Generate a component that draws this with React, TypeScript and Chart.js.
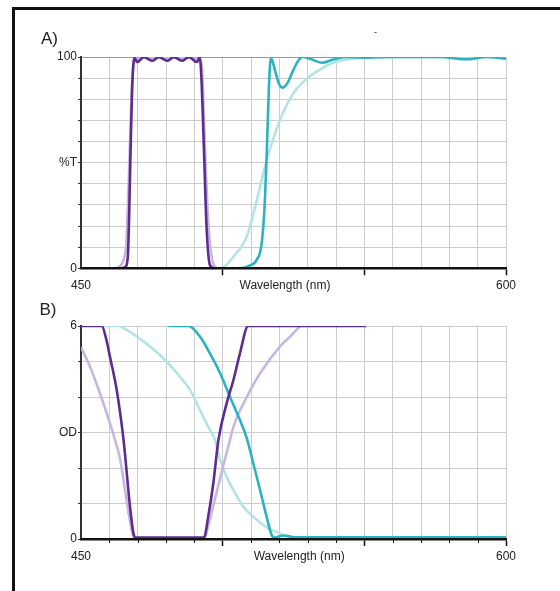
import React, { useEffect, useRef } from 'react';
import { Chart, registerables } from 'chart.js';

Chart.register(...registerables);

// ---------- axes / tick labels ----------
const X_MIN = 450;
const X_MAX = 600;
const X_GRID = [450, 460, 470, 480, 490, 500, 510, 520, 530, 540, 550, 560, 570, 580, 590, 600];
const X_LONG_TICKS = [500, 550, 600];
const X_END_LABELS = [450, 600];
const X_AXIS_NAME = 'Wavelength (nm)';
const A_X_NAME_AT = 522;
const B_X_NAME_AT = 527;

const A_Y_LABEL_VALUES = [0, 50, 100];
const A_Y_LABEL_TEXT = ['0', '%T', '100'];
const B_Y_LABEL_VALUES = [0, 3, 6];
const B_Y_LABEL_TEXT = ['0', 'OD', '6'];

// ---------- colours ----------
const DARK_PURPLE = '#5d2c8e';
const LIGHT_PURPLE = '#c7b7de';
const DARK_TEAL = '#2db3bf';
const LIGHT_TEAL = '#b4e3e3';

// ---------- Panel A: transmission (%T) ----------
const A_PURPLE_NM = [450, 464, 465.5, 466.5, 467, 467.5, 468.2, 468.9, 469.8, 472.2, 475.1, 477.5, 480.4, 482.8, 485.6, 488.1, 490.9, 491.9, 492.5, 493.4, 494.3, 495.5, 497, 600];
const A_PURPLE_T = [0, 0, 0.5, 5, 25, 56, 90, 99.5, 97.6, 100, 98.2, 100, 98.2, 100, 98.2, 100, 97.6, 99.8, 90, 56, 20, 1.5, 0, 0];

const A_LPURPLE_NM = [450, 461.5, 463.5, 465, 466, 466.6, 467.2, 468, 469, 472, 480, 488, 491.5, 492.6, 493.8, 494.6, 495.5, 496.7, 498.5, 600];
const A_LPURPLE_T = [0, 0, 0.8, 4, 12, 32, 56, 88, 98.5, 99.5, 99.5, 99.5, 99, 96, 56, 30, 12, 2, 0, 0];

const A_TEAL_NM = [498, 505, 508, 509, 512, 513.8, 514.9, 515.6, 516.3, 517, 517.6, 518.6, 520, 521.2, 523, 525, 526.8, 528.2, 531, 535, 539, 543.2, 549.6, 559, 569.6, 576.7, 586.1, 593.2, 600];
const A_TEAL_T = [0, 0, 0.4, 1, 4, 12, 32, 56, 85, 99.5, 98, 93, 87, 85.5, 88, 94, 98.5, 100, 99, 97.3, 98.8, 100, 99.7, 100, 100, 100, 98.9, 100, 99.2];

const A_LTEAL_NM = [498, 500.5, 503.8, 508.5, 512, 515.5, 520.2, 524.9, 529.7, 535, 539.6, 549.6, 560, 600];
const A_LTEAL_T = [0, 0.8, 5.5, 15, 32, 51, 70, 82.7, 89.7, 94.5, 97.6, 99.7, 100, 100];

// ---------- Panel B: optical density ----------
const B_PURPLE_NM = [450, 457.3, 459, 460.2, 462.6, 465, 467.3, 468.5, 469.2, 493.4, 494.9, 496.7, 498.5, 501.4, 503.8, 506.1, 509, 550.6];
const B_PURPLE_OD = [6, 6, 5.6, 5.14, 4.2, 2.8, 0.91, 0.16, 0.04, 0.04, 0.63, 1.57, 2.79, 3.82, 4.48, 5.23, 6, 6];

const B_LPURPLE_NM = [450, 453.2, 456.7, 459.1, 462, 463.8, 465.5, 467.3, 468.5, 469.5, 493.5, 495, 497.5, 500, 502.6, 503.8, 508.5, 513.2, 520.2, 523.8, 527.3];
const B_LPURPLE_OD = [5.4, 4.85, 4.1, 3.54, 2.79, 2.25, 1.4, 0.5, 0.06, 0.02, 0.02, 0.4, 1.2, 2.0, 2.79, 3.16, 4.0, 4.67, 5.42, 5.7, 6];

const B_TEAL_NM = [480.8, 487.9, 492, 495.5, 499.1, 502.6, 506.1, 508.5, 510.8, 513.2, 515.5, 517.3, 518.5, 520, 522, 524.9, 600];
const B_TEAL_OD = [6, 6, 5.7, 5.23, 4.67, 4.0, 3.35, 2.84, 2.13, 1.38, 0.63, 0.11, 0.04, 0.08, 0.1, 0.05, 0.05];

const B_LTEAL_NM = [457.9, 463.2, 466.1, 469.7, 474.4, 480.2, 484.9, 488.5, 492, 494.9, 497.3, 499.1, 501.4, 503.8, 507.3, 510.8, 515.5, 520.2, 522.6, 527.3, 600];
const B_LTEAL_OD = [6, 6, 5.89, 5.7, 5.42, 5.0, 4.57, 4.2, 3.63, 3.16, 2.79, 2.23, 1.75, 1.38, 0.91, 0.63, 0.33, 0.16, 0.06, 0.02, 0.02];

const FONT = { family: "'Liberation Sans', Arial, sans-serif", size: 12 };
const TEXT_COLOR = '#222';

function pts(xs: number[], ys: number[]) {
  return xs.map((x, i) => ({ x, y: ys[i] }));
}

function line(xs: number[], ys: number[], color: string, width: number) {
  return {
    data: pts(xs, ys),
    borderColor: color,
    borderWidth: width,
    pointRadius: 0,
    fill: false,
    tension: 0.4,
    cubicInterpolationMode: 'monotone' as const,
  };
}

function xScale(nameAt: number) {
  return {
    type: 'linear' as const,
    min: X_MIN,
    max: X_MAX,
    afterBuildTicks: (s: any) => {
      s.ticks = [...X_GRID, nameAt].sort((a, b) => a - b).map((v) => ({ value: v }));
    },
    afterFit: (s: any) => {
      s.height = 30;
    },
    ticks: {
      autoSkip: false,
      maxRotation: 0,
      minRotation: 0,
      padding: 3,
      font: FONT,
      color: TEXT_COLOR,
      callback: (v: any) => {
        const n = Number(v);
        if (X_END_LABELS.includes(n)) return String(n);
        if (n === nameAt) return X_AXIS_NAME;
        return '';
      },
    },
    grid: {
      color: (ctx: any) => (ctx.tick && X_GRID.includes(ctx.tick.value) ? '#cccccc' : 'rgba(0,0,0,0)'),
      lineWidth: 1,
      tickLength: 7,
      tickWidth: 1.5,
      tickColor: (ctx: any) => (ctx.tick && X_LONG_TICKS.includes(ctx.tick.value) ? '#111' : 'rgba(0,0,0,0)'),
    },
    border: { color: '#111', width: 2.5, z: 1 },
  };
}

function yScale(max: number, step: number, vals: number[], texts: string[], topColor: string) {
  return {
    type: 'linear' as const,
    min: 0,
    max,
    afterFit: (s: any) => {
      s.width = 40;
    },
    ticks: {
      stepSize: step,
      autoSkip: false,
      padding: 1,
      font: FONT,
      color: TEXT_COLOR,
      callback: (v: any) => {
        const i = vals.indexOf(Number(v));
        return i >= 0 ? texts[i] : '';
      },
    },
    grid: {
      color: (ctx: any) => (ctx.tick && ctx.tick.value === max ? topColor : '#cccccc'),
      lineWidth: 1,
      tickLength: 3,
      tickColor: '#333',
    },
    border: { color: '#333', width: 2 },
  };
}

const minorTicksPlugin = {
  id: 'minorTicks',
  afterDraw(chart: any) {
    const s = chart.scales.x;
    const ctx = chart.ctx;
    ctx.save();
    ctx.strokeStyle = '#111';
    ctx.lineWidth = 1;
    X_GRID.filter((v) => !X_LONG_TICKS.includes(v) && v !== X_MIN).forEach((v) => {
      const px = Math.round(s.getPixelForValue(v)) + 0.5;
      ctx.beginPath();
      ctx.moveTo(px, s.top);
      ctx.lineTo(px, s.top + 4);
      ctx.stroke();
    });
    ctx.restore();
  },
};

export default function App() {
  const refA = useRef<HTMLCanvasElement>(null);
  const refB = useRef<HTMLCanvasElement>(null);

  useEffect(() => {
    const common = {
      responsive: false,
      animation: false as const,
      events: [] as any[],
      plugins: { legend: { display: false }, tooltip: { enabled: false }, title: { display: false } },
    };

    const chartA = new Chart(refA.current as HTMLCanvasElement, {
      type: 'line',
      data: {
        datasets: [
          line(A_PURPLE_NM, A_PURPLE_T, DARK_PURPLE, 2.6),
          line(A_TEAL_NM, A_TEAL_T, DARK_TEAL, 2.6),
          line(A_LPURPLE_NM, A_LPURPLE_T, LIGHT_PURPLE, 2.6),
          line(A_LTEAL_NM, A_LTEAL_T, LIGHT_TEAL, 2.6),
        ],
      },
      options: {
        ...common,
        layout: { padding: { left: 41, right: 54, top: 57, bottom: 1.7 } },
        scales: {
          x: xScale(A_X_NAME_AT),
          y: yScale(100, 10, A_Y_LABEL_VALUES, A_Y_LABEL_TEXT, '#9a9a9a'),
        },
      } as any,
    });

    const chartB = new Chart(refB.current as HTMLCanvasElement, {
      type: 'line',
      data: {
        datasets: [
          line(B_PURPLE_NM, B_PURPLE_OD, DARK_PURPLE, 2.6),
          line(B_TEAL_NM, B_TEAL_OD, DARK_TEAL, 2.6),
          line(B_LPURPLE_NM, B_LPURPLE_OD, LIGHT_PURPLE, 2.6),
          line(B_LTEAL_NM, B_LTEAL_OD, LIGHT_TEAL, 2.6),
        ],
      },
      options: {
        ...common,
        layout: { padding: { left: 41, right: 54, top: 31, bottom: 22 } },
        scales: {
          x: xScale(B_X_NAME_AT),
          y: yScale(6, 1, B_Y_LABEL_VALUES, B_Y_LABEL_TEXT, '#cccccc'),
        },
      } as any,
      plugins: [minorTicksPlugin],
    });

    return () => {
      chartA.destroy();
      chartB.destroy();
    };
  }, []);

  const panelLabel: React.CSSProperties = {
    position: 'absolute',
    fontFamily: "'Liberation Sans', Arial, sans-serif",
    fontSize: 17,
    lineHeight: '17px',
    color: '#222',
    margin: 0,
  };

  return (
    <div style={{ position: 'absolute', left: 0, top: 0, width: 560, height: 591, overflow: 'hidden', background: '#fff' }}>
      <div
        style={{
          position: 'absolute',
          left: 12,
          top: 7,
          width: 548,
          height: 584,
          boxSizing: 'border-box',
          borderLeft: '3px solid #111',
          borderTop: '3px solid #111',
        }}
      />
      <canvas ref={refA} width={560} height={300} style={{ position: 'absolute', left: 0, top: 0, display: 'block' }} />
      <canvas ref={refB} width={560} height={296} style={{ position: 'absolute', left: 0, top: 295, display: 'block' }} />
      <div style={{ ...panelLabel, left: 41, top: 29.5 }}>A)</div>
      <div style={{ ...panelLabel, left: 39.5, top: 300.6 }}>B)</div>
      <div
        style={{
          position: 'absolute',
          left: 374,
          top: 28,
          fontFamily: "'Liberation Sans', Arial, sans-serif",
          fontSize: 9,
          lineHeight: '9px',
          color: '#222',
        }}
      >
        -
      </div>
    </div>
  );
}
